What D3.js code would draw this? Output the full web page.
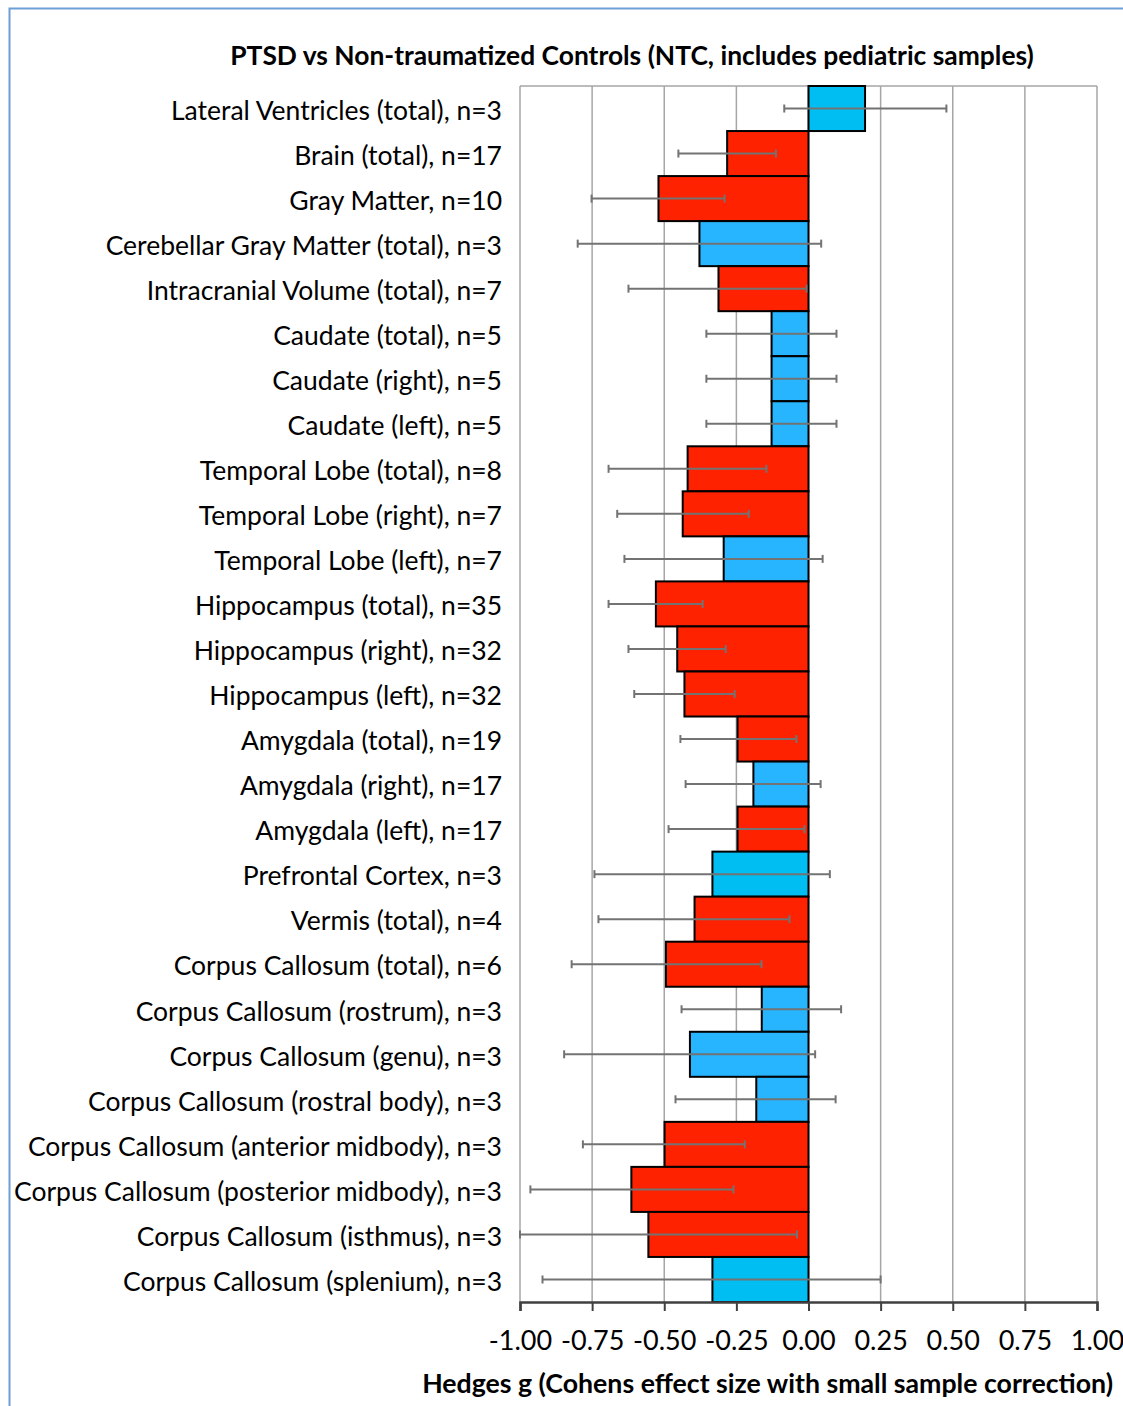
<!DOCTYPE html>
<html lang="en">
<head>
<meta charset="utf-8">
<title>PTSD vs NTC</title>
<script src="https://d3js.org/d3.v7.min.js"></script>
<style>
  body { margin: 0; background: #fff; }
  text { font-family: Lato, "Open Sans", sans-serif; fill: #000; }
</style>
</head>
<body>
<div id="chart"></div>
<script>
// regions, top to bottom
var regions = [
  "Lateral Ventricles (total), n=3",
  "Brain (total), n=17",
  "Gray Matter, n=10",
  "Cerebellar Gray Matter (total), n=3",
  "Intracranial Volume (total), n=7",
  "Caudate (total), n=5",
  "Caudate (right), n=5",
  "Caudate (left), n=5",
  "Temporal Lobe (total), n=8",
  "Temporal Lobe (right), n=7",
  "Temporal Lobe (left), n=7",
  "Hippocampus (total), n=35",
  "Hippocampus (right), n=32",
  "Hippocampus (left), n=32",
  "Amygdala (total), n=19",
  "Amygdala (right), n=17",
  "Amygdala (left), n=17",
  "Prefrontal Cortex, n=3",
  "Vermis (total), n=4",
  "Corpus Callosum (total), n=6",
  "Corpus Callosum (rostrum), n=3",
  "Corpus Callosum (genu), n=3",
  "Corpus Callosum (rostral body), n=3",
  "Corpus Callosum (anterior midbody), n=3",
  "Corpus Callosum (posterior midbody), n=3",
  "Corpus Callosum (isthmus), n=3",
  "Corpus Callosum (splenium), n=3"
];
var hedges_g = [0.196, -0.282, -0.52, -0.378, -0.312, -0.128, -0.128, -0.128, -0.419, -0.436, -0.294,
                -0.529, -0.455, -0.43, -0.246, -0.191, -0.246, -0.333, -0.395, -0.494, -0.162, -0.411,
                -0.181, -0.499, -0.614, -0.555, -0.333];
var ci_low = [-0.084, -0.451, -0.752, -0.80, -0.624, -0.354, -0.354, -0.354, -0.693, -0.663, -0.638,
              -0.693, -0.624, -0.604, -0.444, -0.426, -0.485, -0.742, -0.728, -0.821, -0.44, -0.847,
              -0.461, -0.782, -0.964, -1.0, -0.922];
var ci_high = [0.478, -0.113, -0.291, 0.044, -0.007, 0.097, 0.097, 0.097, -0.146, -0.207, 0.049,
               -0.367, -0.287, -0.256, -0.042, 0.042, -0.014, 0.074, -0.066, -0.163, 0.113, 0.023,
               0.094, -0.221, -0.26, -0.04, 0.25];
// r = significant, b = not significant, c = n=3 studies
var group = ["c", "r", "r", "b", "r", "b", "b", "b", "r", "r", "b", "r", "r", "r", "r", "b", "r",
             "c", "r", "r", "b", "b", "b", "r", "r", "r", "c"];
var x_ticks = [-1, -0.75, -0.5, -0.25, 0, 0.25, 0.5, 0.75, 1];

var colors = {r: "#ff2200", b: "#27b5ff", c: "#00bef2"};

var W = 1123, H = 1406;
var margin = {top: 86, right: 26, bottom: 104, left: 520},
    width = W - margin.left - margin.right,
    height = H - margin.top - margin.bottom;

var svg = d3.select("#chart").append("svg")
    .attr("width", W)
    .attr("height", H);

// outer frame (left and top edges only)
svg.append("path")
   .attr("d", "M9.5," + H + "V8.5H" + W)
   .attr("fill", "none")
   .attr("stroke", "#6d9ed6")
   .attr("stroke-width", 2);

var g = svg.append("g")
    .attr("transform", "translate(" + margin.left + "," + margin.top + ")");

var x = d3.scaleLinear().domain([-1, 1]).range([0, width]);
var y = d3.scaleBand().domain(regions).range([0, height]).padding(0);

// grid
g.selectAll(".grid")
 .data(x_ticks)
 .enter().append("line")
 .attr("x1", function(d) { return x(d); })
 .attr("x2", function(d) { return x(d); })
 .attr("y1", 0)
 .attr("y2", height)
 .attr("stroke", "#a6a6a6")
 .attr("stroke-width", 1.5);
g.append("line")
 .attr("x1", 0).attr("x2", width).attr("y1", 0).attr("y2", 0)
 .attr("stroke", "#a6a6a6").attr("stroke-width", 1.5);

// bars
g.selectAll(".bar")
 .data(regions)
 .enter().append("rect")
 .attr("x", function(d, i) { return x(Math.min(0, hedges_g[i])); })
 .attr("y", function(d) { return y(d); })
 .attr("width", function(d, i) { return Math.abs(x(hedges_g[i]) - x(0)); })
 .attr("height", y.bandwidth())
 .attr("fill", function(d, i) { return colors[group[i]]; })
 .attr("stroke", "#000")
 .attr("stroke-width", 2);

// error bars
var eb = g.selectAll(".err")
 .data(regions)
 .enter().append("g")
 .attr("transform", function(d) { return "translate(0," + (y(d) + y.bandwidth() / 2) + ")"; });
eb.append("line")
  .attr("x1", function(d, i) { return x(ci_low[i]); })
  .attr("x2", function(d, i) { return x(ci_high[i]); })
  .attr("stroke", "#737373").attr("stroke-width", 2);
eb.append("line")
  .attr("x1", function(d, i) { return x(ci_low[i]); })
  .attr("x2", function(d, i) { return x(ci_low[i]); })
  .attr("y1", -4).attr("y2", 4)
  .attr("stroke", "#737373").attr("stroke-width", 2);
eb.append("line")
  .attr("x1", function(d, i) { return x(ci_high[i]); })
  .attr("x2", function(d, i) { return x(ci_high[i]); })
  .attr("y1", -4).attr("y2", 4)
  .attr("stroke", "#737373").attr("stroke-width", 2);

// x axis
var fmt = d3.format(".2f");
var xAxis = g.append("g")
  .attr("transform", "translate(0," + height + ")")
  .call(d3.axisBottom(x).tickValues(x_ticks).tickSize(9).tickPadding(20)
          .tickFormat(function(d) { return fmt(d).replace("\u2212", "-"); }));
xAxis.select(".domain").attr("stroke", "#404040").attr("stroke-width", 2.5);
xAxis.selectAll(".tick line").attr("stroke", "#404040").attr("stroke-width", 2);
xAxis.selectAll(".tick text")
  .attr("font-family", "Lato, sans-serif")
  .attr("font-size", 27)
  .attr("fill", "#000");

// y labels
g.selectAll(".ylab")
 .data(regions)
 .enter().append("text")
 .attr("x", -18)
 .attr("y", function(d) { return y(d) + y.bandwidth() / 2 + 2; })
 .attr("dy", "0.35em")
 .attr("text-anchor", "end")
 .style("font-size", "26.5px")
 .text(function(d) { return d; });

// title
svg.append("text")
   .attr("x", 632)
   .attr("y", 56)
   .attr("dy", "0.35em")
   .attr("text-anchor", "middle")
   .style("font-size", "26.4px")
   .style("font-weight", "bold")
   .text("PTSD vs Non-traumatized Controls (NTC, includes pediatric samples)");

// x axis title
svg.append("text")
   .attr("x", 1113)
   .attr("y", 1384)
   .attr("dy", "0.35em")
   .attr("text-anchor", "end")
   .style("font-size", "26.7px")
   .style("font-weight", "bold")
   .text("Hedges g (Cohens effect size with small sample correction)");
</script>
</body>
</html>
